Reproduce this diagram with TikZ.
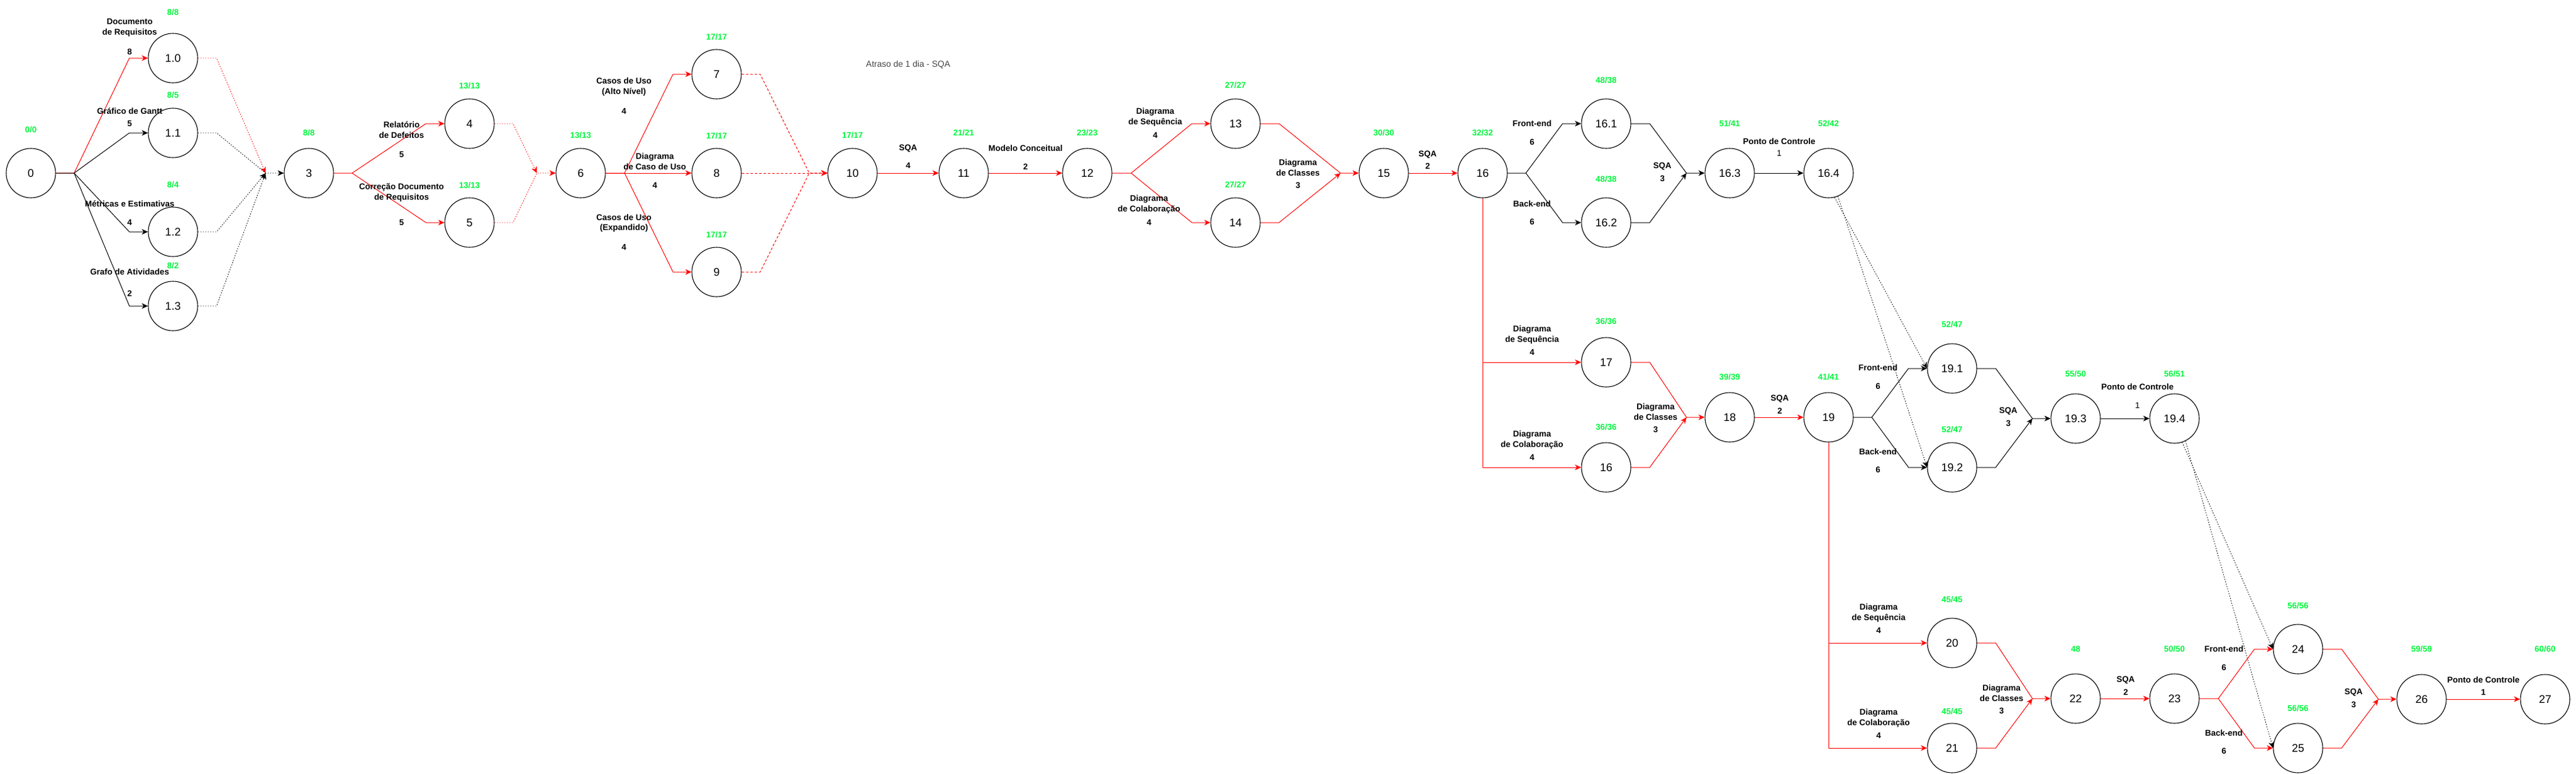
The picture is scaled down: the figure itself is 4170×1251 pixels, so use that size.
\documentclass[tikz,border=0pt]{standalone}
\usepackage{fontspec}
\setmainfont{Liberation Sans}
\usetikzlibrary{arrows.meta}
\definecolor{tgreen}{RGB}{0,245,60}
\definecolor{dkgray}{RGB}{70,70,70}

\tikzset{
  event/.style={draw, circle, minimum size=80pt, inner sep=0pt, line width=1.1pt,
    font=\fontsize{18}{20}\selectfont},
  tempo/.style={text=tgreen, inner sep=0pt, font=\bfseries\fontsize{13.5}{16}\selectfont},
  ativ/.style={align=center, inner sep=0pt, font=\bfseries\fontsize{13.5}{17}\selectfont},
  durreg/.style={inner sep=0pt, font=\fontsize{13.5}{16}\selectfont},
  crit/.style={->, red, line width=1pt},
  norm/.style={->, black, line width=1pt},
  folga/.style={->, line width=0.9pt, dash pattern=on 1.5pt off 2.5pt},
  atraso/.style={->, red, line width=1pt, dash pattern=on 4pt off 3pt},
}

\begin{document}
\begin{tikzpicture}[x=1pt, y=-1pt, >={Stealth[length=10pt,width=9pt,inset=3pt]}]

    \useasboundingbox (0,0) rectangle (4170,1251);

    % eventos
    \node[event] (n0) at (50, 280) {0};
    \node[event] (n1a) at (280, 94) {1.0};
    \node[event] (n1b) at (280, 215) {1.1};
    \node[event] (n1c) at (280, 375) {1.2};
    \node[event] (n1d) at (280, 495) {1.3};
    \node[event] (n3) at (500, 280) {3};
    \node[event] (n4) at (760, 200) {4};
    \node[event] (n5) at (760, 360) {5};
    \node[event] (n6) at (940, 280) {6};
    \node[event] (n7) at (1160, 120) {7};
    \node[event] (n8) at (1160, 280) {8};
    \node[event] (n9) at (1160, 440) {9};
    \node[event] (n10) at (1380, 280) {10};
    \node[event] (n11) at (1560, 280) {11};
    \node[event] (n12) at (1760, 280) {12};
    \node[event] (n13) at (2000, 200) {13};
    \node[event] (n14) at (2000, 360) {14};
    \node[event] (n15) at (2240, 280) {15};
    \node[event] (n16) at (2400, 280) {16};
    \node[event] (n16a) at (2600, 200) {16.1};
    \node[event] (n16b) at (2600, 360) {16.2};
    \node[event] (n16c) at (2800, 280) {16.3};
    \node[event] (n16d) at (2960, 280) {16.4};
    \node[event] (n17) at (2600, 586) {17};
    \node[event] (n16bis) at (2600, 756) {16};
    \node[event] (n18) at (2800, 675) {18};
    \node[event] (n19) at (2960, 675) {19};
    \node[event] (n19a) at (3160, 596) {19.1};
    \node[event] (n19b) at (3160, 756) {19.2};
    \node[event] (n19c) at (3360, 677) {19.3};
    \node[event] (n19d) at (3520, 677) {19.4};
    \node[event] (n20) at (3160, 1040) {20};
    \node[event] (n21) at (3160, 1210) {21};
    \node[event] (n22) at (3360, 1130) {22};
    \node[event] (n23) at (3520, 1130) {23};
    \node[event] (n24) at (3720, 1050) {24};
    \node[event] (n25) at (3720, 1210) {25};
    \node[event] (n26) at (3920, 1131) {26};
    \node[event] (n27) at (4120, 1131) {27};

    % tempos (cedo/tarde)
    \node[tempo] (t0) at (50, 210) {0/0};
    \node[tempo] (t1a) at (280, 20) {8/8};
    \node[tempo] (t1b) at (280, 154) {8/5};
    \node[tempo] (t1c) at (280, 299) {8/4};
    \node[tempo] (t1d) at (280, 430) {8/2};
    \node[tempo] (t3) at (500, 215) {8/8};
    \node[tempo] (t4) at (760, 139) {13/13};
    \node[tempo] (t5) at (760, 300) {13/13};
    \node[tempo] (t6) at (940, 219) {13/13};
    \node[tempo] (t7) at (1160, 60) {17/17};
    \node[tempo] (t8) at (1160, 220) {17/17};
    \node[tempo] (t9) at (1160, 380) {17/17};
    \node[tempo] (t10) at (1380, 219) {17/17};
    \node[tempo] (t11) at (1560, 215) {21/21};
    \node[tempo] (t12) at (1760, 215) {23/23};
    \node[tempo] (t13) at (2000, 138) {27/27};
    \node[tempo] (t14) at (2000, 299) {27/27};
    \node[tempo] (t15) at (2240, 215) {30/30};
    \node[tempo] (t16) at (2400, 215) {32/32};
    \node[tempo] (t16a) at (2600, 130) {48/38};
    \node[tempo] (t16b) at (2600, 290) {48/38};
    \node[tempo] (t16c) at (2800, 200) {51/41};
    \node[tempo] (t16d) at (2960, 200) {52/42};
    \node[tempo] (t17) at (2600, 520) {36/36};
    \node[tempo] (t16bis) at (2600, 691) {36/36};
    \node[tempo] (t18) at (2800, 610) {39/39};
    \node[tempo] (t19) at (2960, 610) {41/41};
    \node[tempo] (t19a) at (3160, 525) {52/47};
    \node[tempo] (t19b) at (3160, 695) {52/47};
    \node[tempo] (t19c) at (3360, 605) {55/50};
    \node[tempo] (t19d) at (3520, 605) {56/51};
    \node[tempo] (t20) at (3160, 970) {45/45};
    \node[tempo] (t21) at (3160, 1151) {45/45};
    \node[tempo] (t22) at (3360, 1050) {48};
    \node[tempo] (t23) at (3520, 1050) {50/50};
    \node[tempo] (t24) at (3720, 980) {56/56};
    \node[tempo] (t25) at (3720, 1146) {56/56};
    \node[tempo] (t26) at (3920, 1050) {59/59};
    \node[tempo] (t27) at (4120, 1050) {60/60};

    \node[durreg, text=dkgray, font=\fontsize{14}{16}\selectfont] (obs) at (1470, 105)
      {Atraso de 1 dia - SQA};

    % pontos de desvio e juncao
    \coordinate (b0) at (120, 280);
    \coordinate (m3) at (430, 280);
    \coordinate (b3) at (570, 280);
    \coordinate (m6) at (869, 280);
    \coordinate (b6) at (1011, 280);
    \coordinate (m10) at (1310, 280);
    \coordinate (b12) at (1831, 280);
    \coordinate (m15) at (2170, 280);
    \coordinate (b16) at (2470, 280);
    \coordinate (m16c) at (2730, 280);
    \coordinate (m18) at (2730, 675);
    \coordinate (b19) at (3030, 675);
    \coordinate (m19c) at (3290, 677);
    \coordinate (m22) at (3290, 1130);
    \coordinate (b23) at (3591, 1130);
    \coordinate (m26) at (3850, 1131);

    % atividades
    \draw[crit] (n0.east) -- (b0) -- ([xshift=-30]n1a.west) -- (n1a.west);
    \draw[norm] (n0.east) -- (b0) -- ([xshift=-30]n1b.west) -- (n1b.west);
    \draw[norm] (b0) -- ([xshift=-30]n1c.west) -- (n1c.west);
    \draw[norm] (b0) -- ([xshift=-30]n1d.west) -- (n1d.west);
    \draw[folga, red] (n1a.east) -- ([xshift=30]n1a.east) -- (m3);
    \draw[folga] (n1b.east) -- ([xshift=30]n1b.east) -- (m3) -- (n3.west);
    \draw[folga] (n1c.east) -- ([xshift=30]n1c.east) -- (m3);
    \draw[folga] (n1d.east) -- ([xshift=30]n1d.east) -- (m3);

    \draw[crit] (n3.east) -- (b3) -- ([xshift=-30]n4.west) -- (n4.west);
    \draw[crit] (b3) -- ([xshift=-30]n5.west) -- (n5.west);
    \draw[folga, red] (n4.east) -- ([xshift=30]n4.east) -- (m6);
    \draw[folga, red] (n5.east) -- ([xshift=30]n5.east) -- (m6) -- (n6.west);

    \draw[crit] (n6.east) -- (b6) -- ([xshift=-30]n7.west) -- (n7.west);
    \draw[crit] (n6.east) -- (n8.west);
    \draw[crit] (b6) -- ([xshift=-30]n9.west) -- (n9.west);
    \draw[atraso] (n7.east) -- ([xshift=30]n7.east) -- (m10) -- (n10.west);
    \draw[atraso] (n8.east) -- (n10.west);
    \draw[atraso] (n9.east) -- ([xshift=30]n9.east) -- (m10) -- (n10.west);

    \draw[crit] (n10) -- (n11);
    \draw[crit] (n11) -- (n12);
    \draw[crit] (n12.east) -- (b12) -- ([xshift=-30]n13.west) -- (n13.west);
    \draw[crit] (b12) -- ([xshift=-30]n14.west) -- (n14.west);
    \draw[crit] (n13.east) -- ([xshift=30]n13.east) -- (m15) -- (n15.west);
    \draw[crit] (n14.east) -- ([xshift=30]n14.east) -- (m15);
    \draw[crit] (n15) -- (n16);

    \draw[norm] (n16.east) -- (b16) -- ([xshift=-30]n16a.west) -- (n16a.west);
    \draw[norm] (b16) -- ([xshift=-30]n16b.west) -- (n16b.west);
    \draw[norm] (n16a.east) -- ([xshift=30]n16a.east) -- (m16c) -- (n16c.west);
    \draw[norm] (n16b.east) -- ([xshift=30]n16b.east) -- (m16c);
    \draw[norm] (n16c) -- (n16d);
    \draw[folga] (n16d.-76) -- (n19a.west);
    \draw[folga] (n16d.-68) -- (n19b.west);

    \draw[crit] (n16.south) |- (n17.west);
    \draw[crit] (n16.south) |- (n16bis.west);
    \draw[crit] (n17.east) -- ([xshift=30]n17.east) -- (m18) -- (n18.west);
    \draw[crit] (n16bis.east) -- ([xshift=30]n16bis.east) -- (m18);
    \draw[crit] (n18) -- (n19);

    \draw[norm] (n19.east) -- (b19) -- ([xshift=-30]n19a.west) -- (n19a.west);
    \draw[norm] (b19) -- ([xshift=-30]n19b.west) -- (n19b.west);
    \draw[norm] (n19a.east) -- ([xshift=30]n19a.east) -- (m19c) -- (n19c.west);
    \draw[norm] (n19b.east) -- ([xshift=30]n19b.east) -- (m19c);
    \draw[norm] (n19c) -- (n19d);
    \draw[folga] (n19d.-72) -- (n24.west);
    \draw[folga] (n19d.-64) -- (n25.west);

    \draw[crit] (n19.south) |- (n20.west);
    \draw[crit] (n19.south) |- (n21.west);
    \draw[crit] (n20.east) -- ([xshift=30]n20.east) -- (m22) -- (n22.west);
    \draw[crit] (n21.east) -- ([xshift=30]n21.east) -- (m22);
    \draw[crit] (n22) -- (n23);
    \draw[crit] (n23.east) -- (b23) -- ([xshift=-30]n24.west) -- (n24.west);
    \draw[crit] (b23) -- ([xshift=-30]n25.west) -- (n25.west);
    \draw[crit] (n24.east) -- ([xshift=30]n24.east) -- (m26) -- (n26.west);
    \draw[crit] (n25.east) -- ([xshift=30]n25.east) -- (m26);
    \draw[crit] (n26) -- (n27);

    % nomes e duracoes
    \node[ativ] (a1a) at (210, 45) {Documento\\de Requisitos};
    \node[ativ] (d1a) at (210, 84) {8};
    \node[ativ] (a1b) at (210, 180) {Gráfico de Gantt};
    \node[ativ] (d1b) at (210, 200) {5};
    \node[ativ] (a1c) at (210, 330) {Métricas e Estimativas};
    \node[ativ] (d1c) at (210, 360) {4};
    \node[ativ] (a1d) at (210, 440) {Grafo de Atividades};
    \node[ativ] (d1d) at (210, 475) {2};
    \node[ativ] (a4) at (650, 210) {Relatório\\de Defeitos};
    \node[ativ] (d4) at (650, 250) {5};
    \node[ativ] (a5) at (650, 312) {Correção Documento\\de Requisitos};
    \node[ativ] (d5) at (650, 360) {5};
    \node[ativ] (a7) at (1010, 141) {Casos de Uso\\(Alto Nível)};
    \node[ativ] (d7) at (1010, 180) {4};
    \node[ativ] (a8) at (1060, 261) {Diagrama\\de Caso de Uso};
    \node[ativ] (d8) at (1060, 300) {4};
    \node[ativ] (a9) at (1010, 361) {Casos de Uso\\(Expandido)};
    \node[ativ] (d9) at (1010, 400) {4};
    \node[ativ] (a11) at (1470, 240) {SQA};
    \node[ativ] (d11) at (1470, 268) {4};
    \node[ativ] (a12) at (1660, 240) {Modelo Conceitual};
    \node[ativ] (d12) at (1660, 270) {2};
    \node[ativ] (a13) at (1870, 190) {Diagrama\\de Sequência};
    \node[ativ] (d13) at (1870, 219) {4};
    \node[ativ] (a14) at (1860, 331) {Diagrama\\de Colaboração};
    \node[ativ] (d14) at (1860, 360) {4};
    \node[ativ] (a15) at (2101, 271) {Diagrama\\de Classes};
    \node[ativ] (d15) at (2101, 300) {3};
    \node[ativ] (a16) at (2311, 250) {SQA};
    \node[ativ] (d16) at (2311, 269) {2};
    \node[ativ] (a16a) at (2480, 200) {Front-end};
    \node[ativ] (d16a) at (2480, 230) {6};
    \node[ativ] (a16b) at (2480, 330) {Back-end};
    \node[ativ] (d16b) at (2480, 359) {6};
    \node[ativ] (a16c) at (2691, 269) {SQA};
    \node[ativ] (d16c) at (2691, 289) {3};
    \node[ativ] (a16d) at (2880, 229) {Ponto de Controle};
    \node[durreg] (d16d) at (2880, 248) {1};
    \node[ativ] (a17) at (2480, 541) {Diagrama\\de Sequência};
    \node[ativ] (d17) at (2480, 570) {4};
    \node[ativ] (a16bis) at (2480, 711) {Diagrama\\de Colaboração};
    \node[ativ] (d16bis) at (2480, 740) {4};
    \node[ativ] (a18) at (2680, 666) {Diagrama\\de Classes};
    \node[ativ] (d18) at (2680, 695) {3};
    \node[ativ] (a19) at (2881, 645) {SQA};
    \node[ativ] (d19) at (2881, 665) {2};
    \node[ativ] (a19a) at (3040, 595) {Front-end};
    \node[ativ] (d19a) at (3040, 625) {6};
    \node[ativ] (a19b) at (3040, 731) {Back-end};
    \node[ativ] (d19b) at (3040, 760) {6};
    \node[ativ] (a19c) at (3251, 665) {SQA};
    \node[ativ] (d19c) at (3251, 685) {3};
    \node[ativ] (a19d) at (3460, 626) {Ponto de Controle};
    \node[durreg] (d19d) at (3460, 656) {1};
    \node[ativ] (a20) at (3041, 991) {Diagrama\\de Sequência};
    \node[ativ] (d20) at (3041, 1020) {4};
    \node[ativ] (a21) at (3041, 1161) {Diagrama\\de Colaboração};
    \node[ativ] (d21) at (3041, 1190) {4};
    \node[ativ] (a22) at (3240, 1121) {Diagrama\\de Classes};
    \node[ativ] (d22) at (3240, 1150) {3};
    \node[ativ] (a23) at (3441, 1100) {SQA};
    \node[ativ] (d23) at (3441, 1120) {2};
    \node[ativ] (a24) at (3600, 1050) {Front-end};
    \node[ativ] (d24) at (3600, 1080) {6};
    \node[ativ] (a25) at (3600, 1186) {Back-end};
    \node[ativ] (d25) at (3600, 1215) {6};
    \node[ativ] (a26) at (3810, 1120) {SQA};
    \node[ativ] (d26) at (3810, 1140) {3};
    \node[ativ] (a27) at (4020, 1100) {Ponto de Controle};
    \node[ativ] (d27) at (4020, 1120) {1};
\end{tikzpicture}
\end{document}
